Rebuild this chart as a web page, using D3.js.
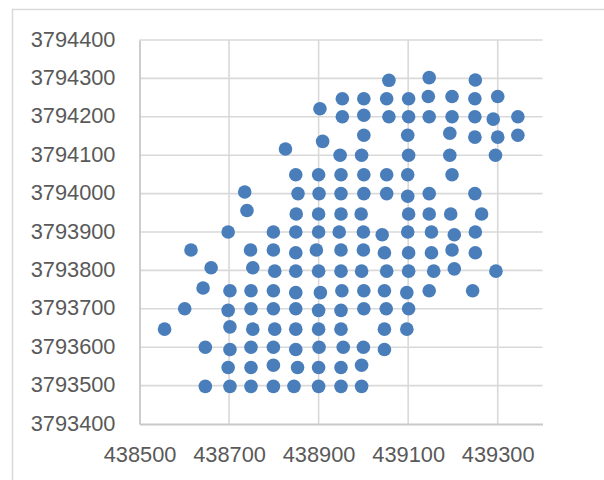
<!DOCTYPE html>
<html>
<head>
<meta charset="utf-8">
<script src="https://cdn.jsdelivr.net/npm/d3@7"></script>
<style>
  html, body { margin: 0; padding: 0; background: #fff; }
  svg { display: block; }
  .lbl { font-family: "Liberation Sans", Arial, sans-serif; font-size: 21.8px; fill: #595959; }
</style>
</head>
<body>
<svg id="chart" width="604" height="480"></svg>
<script>
// ---- data ----
const xTicks = [438500, 438700, 438900, 439100, 439300];
const yTicks = [3793400, 3793500, 3793600, 3793700, 3793800, 3793900, 3794000, 3794100, 3794200, 3794300, 3794400];

const xValues = [
  439057, 439147, 439250,
  438953, 439001, 439052, 439101, 439145, 439198, 439249, 439300,
  438903,
  438953, 439001, 439057, 439101, 439147, 439198, 439249, 439290, 439345,
  439001, 439099, 439193, 439249, 439300, 439345,
  438909, 438826,
  438948, 438996, 439101, 439193, 439295,
  438849, 438900, 438950, 439001, 439052, 439099, 439198,
  438735, 438854, 438901, 438950, 439001, 439052, 439099, 439147, 439249,
  438740, 438850, 438900, 438950, 438995, 439101, 439147, 439195, 439264,
  438698, 438799, 438849, 438900, 438946, 439000, 439042, 439099, 439152, 439203, 439250,
  438615, 438748, 438799, 438849, 438895, 438950, 439000, 439047, 439101, 439152, 439198, 439250,
  438660, 438753, 438802, 438849, 438900, 438950, 438996, 439052, 439101, 439157, 439203, 439296,
  438642, 438702, 438749, 438799, 438849, 438904, 438952, 439001, 439047, 439097, 439147, 439244,
  438601, 438698, 438749, 438799, 438849, 438900, 438950, 439001, 439051, 439101,
  438556, 438702, 438753, 438802, 438849, 438900, 438950, 439047, 439097,
  438647, 438702, 438749, 438799, 438849, 438901, 438955, 439000, 439047,
  438698, 438749, 438799, 438853, 438900, 438950, 438996,
  438647, 438702, 438749, 438799, 438845, 438900, 438950, 438996
];

const yValues = [
  3794295, 3794302, 3794296,
  3794247, 3794247, 3794247, 3794247, 3794253, 3794253, 3794247, 3794253,
  3794221,
  3794200, 3794204, 3794200, 3794200, 3794200, 3794200, 3794200, 3794194, 3794200,
  3794152, 3794152, 3794157, 3794147, 3794147, 3794152,
  3794136, 3794116,
  3794100, 3794100, 3794100, 3794100, 3794100,
  3794049, 3794049, 3794049, 3794049, 3794049, 3794049, 3794049,
  3794004, 3794000, 3794000, 3794000, 3794000, 3794000, 3793993, 3794000, 3794000,
  3793956, 3793947, 3793947, 3793947, 3793947, 3793947, 3793947, 3793947, 3793947,
  3793900, 3793900, 3793900, 3793900, 3793900, 3793900, 3793893, 3793900, 3793900, 3793893, 3793900,
  3793853, 3793853, 3793853, 3793846, 3793853, 3793853, 3793853, 3793846, 3793846, 3793846, 3793853, 3793846,
  3793807, 3793807, 3793798, 3793798, 3793798, 3793798, 3793798, 3793798, 3793798, 3793798, 3793804, 3793798,
  3793754, 3793747, 3793747, 3793747, 3793742, 3793742, 3793747, 3793747, 3793747, 3793742, 3793747, 3793747,
  3793700, 3793696, 3793700, 3793700, 3793700, 3793696, 3793696, 3793700, 3793700, 3793700,
  3793647, 3793653, 3793647, 3793647, 3793647, 3793647, 3793647, 3793647, 3793647,
  3793600, 3793594, 3793600, 3793600, 3793594, 3793600, 3793600, 3793600, 3793594,
  3793547, 3793547, 3793553, 3793547, 3793547, 3793547, 3793553,
  3793498, 3793498, 3793498, 3793498, 3793498, 3793498, 3793498, 3793498
];

// ---- drawing ----
(function () {
  const svg = d3.select("#chart");
  const pl = 139.5, pr = 542.5, pt = 40, pb = 424;

  const x = d3.scaleLinear().domain([438500, 439400]).range([pl, pr]);
  const y = d3.scaleLinear().domain([3793400, 3794400]).range([pb, pt]);

  // chart border
  svg.append("rect")
    .attr("x", 12.5).attr("y", 9.5)
    .attr("width", 640).attr("height", 520)
    .attr("fill", "none").attr("stroke", "#d9d9d9").attr("stroke-width", 1.5);

  // gridlines
  svg.append("g").selectAll("line")
    .data(yTicks.slice(1))
    .join("line")
    .attr("x1", pl).attr("x2", pr)
    .attr("y1", d => y(d)).attr("y2", d => y(d))
    .attr("stroke", "#d9d9d9").attr("stroke-width", 1.6);

  svg.append("g").selectAll("line")
    .data(xTicks.slice(1))
    .join("line")
    .attr("x1", d => x(d)).attr("x2", d => x(d))
    .attr("y1", pt).attr("y2", pb)
    .attr("stroke", "#d9d9d9").attr("stroke-width", 1.6);

  const xAxis = d3.axisBottom(x).tickValues(xTicks).tickSize(0).tickPadding(0).tickFormat(d3.format("d"));
  const yAxis = d3.axisLeft(y).tickValues(yTicks).tickSize(0).tickPadding(0).tickFormat(d3.format("d"));

  const gx = svg.append("g").attr("transform", `translate(0,${pb})`).call(xAxis);
  gx.select(".domain").attr("stroke", "#c8c8c8").attr("stroke-width", 1.8);
  gx.selectAll("text").attr("class", "lbl").attr("y", 38).attr("dy", null)
    .attr("font-family", null).attr("font-size", null).attr("fill", null);

  const gy = svg.append("g").attr("transform", `translate(${pl},0)`).call(yAxis);
  gy.select(".domain").attr("stroke", "#c8c8c8").attr("stroke-width", 1.8);
  gy.selectAll("text").attr("class", "lbl").attr("x", -24).attr("dy", 6)
    .attr("font-family", null).attr("font-size", null).attr("fill", null);
  gx.attr("font-family", null).attr("font-size", null);
  gy.attr("font-family", null).attr("font-size", null);
  svg.selectAll(".tick line").remove();

  // points
  svg.append("g").selectAll("circle")
    .data(xValues.map((v, i) => [v, yValues[i]]))
    .join("circle")
    .attr("cx", d => x(d[0]))
    .attr("cy", d => y(d[1]))
    .attr("r", 6.8)
    .attr("fill", "#4a7ebb");
})();
</script>
</body>
</html>
